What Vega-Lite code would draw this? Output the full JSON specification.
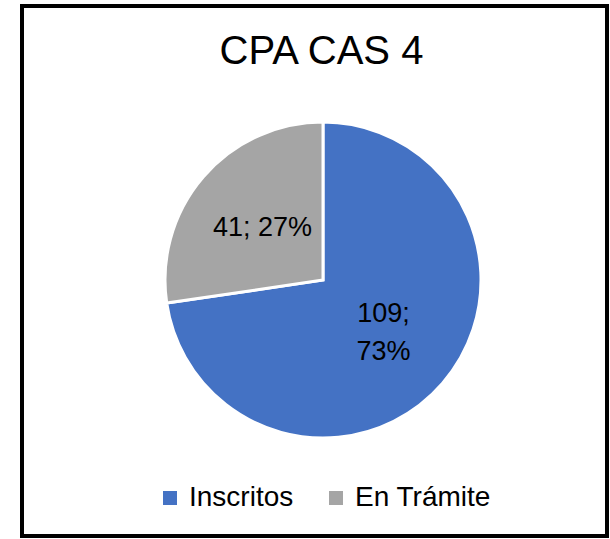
{
  "$schema": "https://vega.github.io/schema/vega-lite/v6.json",
  "autosize": "none",
  "width": 585,
  "height": 530,
  "padding": {"left": 22, "top": 6, "right": 3, "bottom": 3},
  "background": "white",
  "view": {"stroke": "black", "strokeWidth": 4},
  "title": {
    "text": "CPA CAS 4",
    "font": "Liberation Sans",
    "fontSize": 40,
    "fontWeight": "normal",
    "color": "black",
    "anchor": "middle",
    "frame": "group",
    "baseline": "alphabetic",
    "offset": -61,
    "dy": 37,
    "dx": 7
  },
  "data": {
    "values": [
      {"categoria": "Inscritos", "valor": 109, "orden": 1, "etiqueta": "109;|73%"},
      {"categoria": "En Trámite", "valor": 41, "orden": 2, "etiqueta": "41; 27%"}
    ]
  },
  "encoding": {
    "theta": {"field": "valor", "type": "quantitative", "stack": true},
    "order": {"field": "orden", "type": "quantitative"}
  },
  "layer": [
    {
      "mark": {"type": "arc", "outerRadius": 158, "stroke": "white", "strokeWidth": 3, "xOffset": 8.5, "yOffset": 9},
      "encoding": {
        "color": {
          "field": "categoria",
          "type": "nominal",
          "scale": {"domain": ["Inscritos", "En Trámite"], "range": ["#4472C4", "#A5A5A5"]},
          "legend": {
            "title": null,
            "orient": "none",
            "direction": "horizontal",
            "legendX": 134,
            "legendY": 478,
            "symbolType": "square",
            "symbolSize": 196,
            "symbolStrokeWidth": 0,
            "labelFont": "Liberation Sans",
            "labelFontSize": 28,
            "labelColor": "black",
            "labelOffset": 5,
            "columnPadding": 28,
            "labelLimit": 300
          }
        }
      }
    },
    {
      "mark": {"type": "text", "radius": 80, "font": "Liberation Sans", "fontSize": 27, "color": "black", "xOffset": 8.5, "yOffset": 9},
      "encoding": {
        "text": {"condition": {"test": "datum.orden == 2", "field": "etiqueta"}, "value": ""}
      }
    },
    {
      "mark": {"type": "text", "radius": 80, "font": "Liberation Sans", "fontSize": 27, "color": "black", "lineBreak": "|", "lineHeight": 38, "xOffset": 8.5, "yOffset": 9, "dy": -18},
      "encoding": {
        "text": {"condition": {"test": "datum.orden == 1", "field": "etiqueta"}, "value": ""}
      }
    }
  ]
}
